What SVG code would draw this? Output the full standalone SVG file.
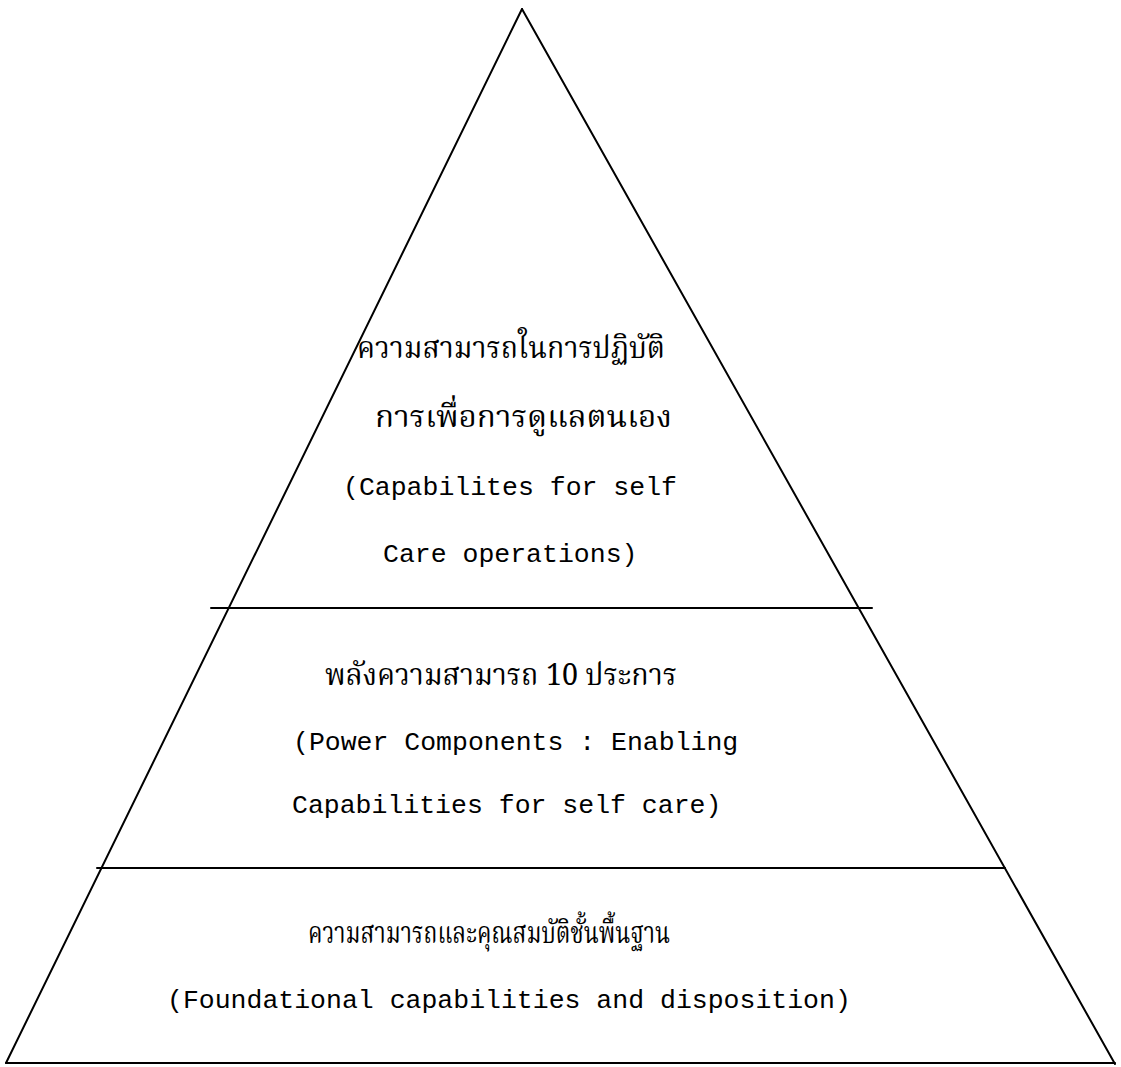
<svg xmlns="http://www.w3.org/2000/svg" width="1121" height="1067" viewBox="0 0 1121 1067">
  <style>
    .edge { stroke: #000; stroke-width: 2; fill: none; stroke-linecap: round; }
    .en { font-family: "Courier New", "Nimbus Mono PS", "FreeMono", "Liberation Mono", "DejaVu Sans Mono", monospace; font-size: 26.5px; fill: #000; }
    .th { font-family: "Noto Serif Thai", "Tlwg Typo", "Norasi", "Noto Sans Thai", "Garuda", "Loma", "Liberation Mono", sans-serif; font-size: 30px; fill: #000; }
  </style>
  <rect width="1121" height="1067" fill="#fff"/>
  <g id="pyramid-outline">
    <line class="edge" x1="522" y1="9" x2="6" y2="1063"/>
    <line class="edge" x1="522" y1="9" x2="1115" y2="1064"/>
    <line class="edge" x1="6" y1="1063" x2="1115" y2="1063"/>
    <line class="edge" x1="211" y1="608" x2="872" y2="608"/>
    <line class="edge" x1="97" y1="868" x2="1005" y2="868"/>
  </g>
  <g id="tier-top">
    <text class="th" x="357" y="358" textLength="308" lengthAdjust="spacingAndGlyphs">ความสามารถในการปฏิบัติ</text>
    <text class="th" x="375" y="427" textLength="297" lengthAdjust="spacingAndGlyphs">การเพื่อการดูแลตนเอง</text>
    <text class="en" x="343" y="495">(Capabilites for self</text>
    <text class="en" x="383" y="562">Care operations)</text>
  </g>
  <g id="tier-middle">
    <text class="th" x="325" y="685" textLength="352" lengthAdjust="spacingAndGlyphs">พลังความสามารถ 10 ประการ</text>
    <text class="en" x="293" y="750">(Power Components : Enabling</text>
    <text class="en" x="292" y="813">Capabilities for self care)</text>
  </g>
  <g id="tier-bottom">
    <text class="th" x="308" y="943" textLength="362" lengthAdjust="spacingAndGlyphs">ความสามารถและคุณสมบัติชั้นพื้นฐาน</text>
    <text class="en" x="167" y="1008">(Foundational capabilities and disposition)</text>
  </g>
</svg>
